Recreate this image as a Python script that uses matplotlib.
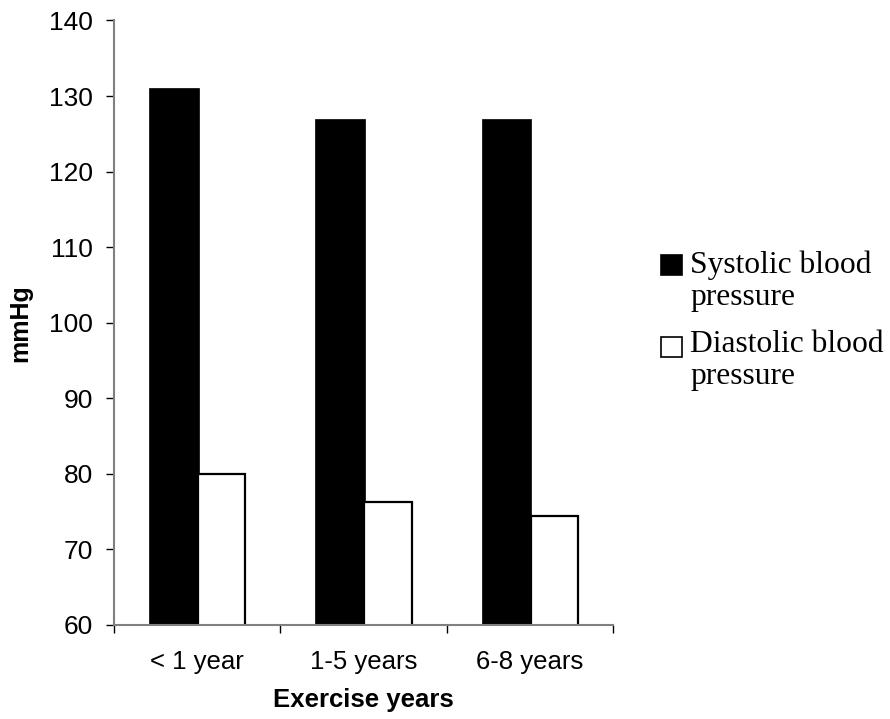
import matplotlib.pyplot as plt
import numpy as np
from matplotlib.patches import Rectangle

categories = ['< 1 year', '1-5 years', '6-8 years']
systolic = [131, 127, 127]
diastolic = [80, 76.2, 74.4]
legend_labels = ['Systolic blood\npressure', 'Diastolic blood\npressure']

plt.rcParams['font.family'] = ['Liberation Sans', 'DejaVu Sans']

fig, ax = plt.subplots(figsize=(8.9, 7.19), dpi=100)
fig.subplots_adjust(left=0.128, right=0.689, bottom=0.131, top=0.9715)

x = np.arange(len(categories))
ax.bar(x - 0.14, systolic, width=0.298, color='black', edgecolor='black', lw=0.5)
ax.bar(x + 0.148, diastolic, width=0.285, color='white', edgecolor='black', lw=1.6)

ax.set_xlim(-0.5, 2.5)
ax.set_ylim(60, 140)
ax.set_yticks(np.arange(60, 141, 10))

# boundary ticks between groups, labels centred on groups
ax.set_xticks(np.arange(-0.5, 3.0, 1.0))
ax.set_xticklabels([])
ax.set_xticks(x, minor=True)
ax.set_xticklabels(categories, minor=True)
ax.tick_params(axis='x', which='major', length=6, width=1, color='black', direction='out')
ax.tick_params(axis='x', which='minor', length=0, pad=18, labelsize=18.5)
ax.tick_params(axis='y', length=6, width=1, color='black', direction='out', pad=9, labelsize=19)

for s in ['top', 'right']:
    ax.spines[s].set_visible(False)
for s in ['left', 'bottom']:
    ax.spines[s].set_color('#808080')
    ax.spines[s].set_linewidth(1.5)

ax.set_xlabel('Exercise years', fontsize=18.5, fontweight='bold', labelpad=10)
ax.set_ylabel('mmHg', fontsize=18, fontweight='bold')
ax.yaxis.set_label_coords(-0.164, 0.5)

# legend drawn by hand so the swatch sits beside the first text line
swatches = [('black', 'black'), ('white', 'black')]
text_tops = [251, 330]
box_tops = [255, 337]
for (fc, ec), lab, ttop, btop in zip(swatches, legend_labels, text_tops, box_tops):
    fig.add_artist(Rectangle((661 / 890, 1 - (btop + 20) / 719), 20.5 / 890, 20 / 719,
                             transform=fig.transFigure, facecolor=fc, edgecolor=ec, lw=1.2))
    fig.text(690 / 890, 1 - ttop / 719, lab, fontsize=22.7, family='Liberation Serif',
             va='top', ha='left', linespacing=1.12)

fig.savefig('out.png', facecolor='white')
